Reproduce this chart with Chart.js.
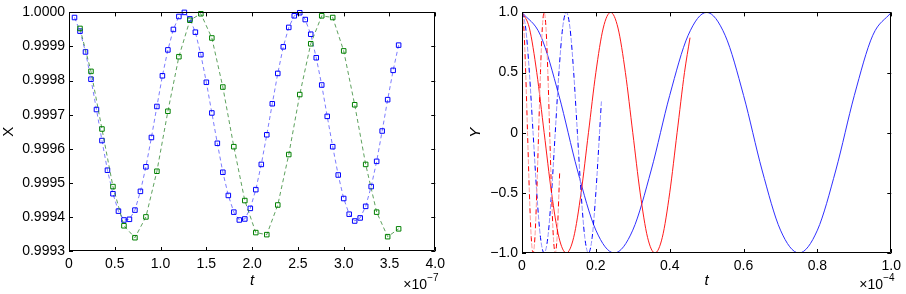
<!DOCTYPE html>
<html>
<head>
<meta charset="utf-8">
<script src="https://cdn.jsdelivr.net/npm/chart.js@4.4.1/dist/chart.umd.min.js"></script>
<style>
  html, body { margin: 0; padding: 0; background: #fff; }
  #wrap { position: relative; width: 906px; height: 294px; }
  canvas { position: absolute; top: 0; }
  #chartX { left: 0; }
  #chartY { left: 455px; }
</style>
</head>
<body>
<div id="wrap">
  <canvas id="chartX" width="450" height="294"></canvas>
  <canvas id="chartY" width="451" height="294"></canvas>
</div>
<script>
// left panel: X against t (t in units of 1e-7)
const tBlue = [0.06, 0.12, 0.18, 0.24, 0.30, 0.36, 0.42, 0.48, 0.54, 0.60,
  0.66, 0.72, 0.78, 0.84, 0.90, 0.96, 1.02, 1.08, 1.14, 1.20,
  1.26, 1.32, 1.38, 1.44, 1.50, 1.56, 1.62, 1.68, 1.74, 1.80,
  1.86, 1.92, 1.98, 2.04, 2.10, 2.16, 2.22, 2.28, 2.34, 2.40,
  2.46, 2.52, 2.58, 2.64, 2.70, 2.76, 2.82, 2.88, 2.94, 3.00,
  3.06, 3.12, 3.18, 3.24, 3.30, 3.36, 3.42, 3.48, 3.54, 3.60];
const xBlue = [0.999985, 0.999945, 0.999884, 0.999804, 0.999715, 0.999624, 0.999537, 0.999468, 0.999417, 0.999391,
  0.999393, 0.999420, 0.999475, 0.999547, 0.999633, 0.999724, 0.999814, 0.999890, 0.999950, 0.999988,
  1.000000, 0.999981, 0.999942, 0.999876, 0.999795, 0.999705, 0.999616, 0.999531, 0.999463, 0.999414,
  0.999391, 0.999394, 0.999425, 0.999480, 0.999554, 0.999641, 0.999732, 0.999821, 0.999899, 0.999956,
  0.999990, 0.999999, 0.999979, 0.999936, 0.999867, 0.999787, 0.999695, 0.999606, 0.999523, 0.999454,
  0.999408, 0.999388, 0.999397, 0.999431, 0.999489, 0.999563, 0.999652, 0.999744, 0.999830, 0.999904];
const tGreen = [0.12, 0.24, 0.36, 0.48, 0.60, 0.72, 0.84, 0.96, 1.08, 1.20,
  1.32, 1.44, 1.56, 1.68, 1.80, 1.92, 2.04, 2.16, 2.28, 2.40,
  2.52, 2.64, 2.76, 2.88, 3.00, 3.12, 3.24, 3.36, 3.48, 3.60];
const xGreen = [0.999953, 0.999827, 0.999658, 0.999489, 0.999374, 0.999339, 0.999400, 0.999534, 0.999710, 0.999870,
  0.999977, 0.999996, 0.999925, 0.999781, 0.999606, 0.999448, 0.999354, 0.999348, 0.999435, 0.999583,
  0.999759, 0.999908, 0.999990, 0.999985, 0.999887, 0.999729, 0.999554, 0.999414, 0.999342, 0.999365];
const leftXTicks = [0, 0.5, 1.0, 1.5, 2.0, 2.5, 3.0, 3.5, 4.0];
const leftXLabels = ['0', '0.5', '1.0', '1.5', '2.0', '2.5', '3.0', '3.5', '4.0'];
const leftYTicks = [0.9993, 0.9994, 0.9995, 0.9996, 0.9997, 0.9998, 0.9999, 1.0];
const leftYLabels = ['0.9993', '0.9994', '0.9995', '0.9996', '0.9997', '0.9998', '0.9999', '1.0000'];

// right panel: Y against t (t in units of 1e-4)
const tBlueSolid = [0, 0.05, 0.10, 0.15, 0.20, 0.25, 0.30, 0.35, 0.40, 0.45, 0.50,
  0.55, 0.60, 0.65, 0.70, 0.75, 0.80, 0.85, 0.90, 0.95, 1.00];
const yBlueSolid = [1, 0.81, 0.31, -0.31, -0.81, -1, -0.81, -0.31, 0.31, 0.81, 1,
  0.81, 0.31, -0.31, -0.81, -1, -0.81, -0.31, 0.31, 0.81, 1];
const tRedSolid = [0, 0.02, 0.04, 0.06, 0.08, 0.10, 0.12, 0.14, 0.16, 0.18, 0.20, 0.22,
  0.24, 0.26, 0.28, 0.30, 0.32, 0.34, 0.36, 0.38, 0.40, 0.42, 0.44, 0.455];
const yRedSolid = [1, 0.87, 0.5, 0, -0.5, -0.87, -1, -0.87, -0.5, 0, 0.5, 0.87,
  1, 0.87, 0.5, 0, -0.5, -0.87, -1, -0.87, -0.5, 0, 0.5, 0.79];
const tBlueDash = [0, 0.01, 0.02, 0.03, 0.04, 0.05, 0.06, 0.07, 0.08, 0.09, 0.10, 0.11,
  0.12, 0.13, 0.14, 0.15, 0.16, 0.17, 0.18, 0.19, 0.20, 0.21, 0.215];
const yBlueDash = [1, 0.87, 0.5, 0, -0.5, -0.87, -1, -0.87, -0.5, 0, 0.5, 0.87,
  1, 0.87, 0.5, 0, -0.5, -0.87, -1, -0.87, -0.5, 0, 0.26];
const tRedDash = [0, 0.005, 0.010, 0.015, 0.020, 0.025, 0.030, 0.035, 0.040, 0.045, 0.050, 0.055,
  0.060, 0.065, 0.070, 0.075, 0.080, 0.085, 0.090, 0.095, 0.100, 0.102];
const yRedDash = [1, 0.87, 0.5, 0, -0.5, -0.87, -1, -0.87, -0.5, 0, 0.5, 0.87,
  1, 0.87, 0.5, 0, -0.5, -0.87, -1, -0.87, -0.5, -0.33];
const rightXTicks = [0, 0.2, 0.4, 0.6, 0.8, 1.0];
const rightXLabels = ['0', '0.2', '0.4', '0.6', '0.8', '1.0'];
const rightYTicks = [-1, -0.5, 0, 0.5, 1];
const rightYLabels = ['\u22121.0', '\u22120.5', '0', '0.5', '1.0'];

const FONT = 'Liberation Sans';

function pts(ts, vs) {
  return ts.map((t, i) => ({ x: t, y: vs[i] }));
}

// box round the plot, inward ticks on all four sides, and the x10^n note
const boxTicks = {
  id: 'boxTicks',
  afterDraw(chart, args, opts) {
    const { ctx, chartArea: a, scales } = chart;
    const sx = scales.x, sy = scales.y;
    ctx.save();
    ctx.strokeStyle = '#000';
    ctx.lineWidth = 1;
    ctx.beginPath();
    ctx.rect(Math.round(a.left) + 0.5, Math.round(a.top) + 0.5,
      Math.round(a.right - a.left) - 1, Math.round(a.bottom - a.top) - 1);
    sx.ticks.forEach(t => {
      const p = Math.round(sx.getPixelForValue(t.value)) + 0.5;
      ctx.moveTo(p, a.bottom); ctx.lineTo(p, a.bottom - 4);
      ctx.moveTo(p, a.top); ctx.lineTo(p, a.top + 4);
    });
    sy.ticks.forEach(t => {
      const p = Math.round(sy.getPixelForValue(t.value)) + 0.5;
      ctx.moveTo(a.left, p); ctx.lineTo(a.left + 4, p);
      ctx.moveTo(a.right, p); ctx.lineTo(a.right - 4, p);
    });
    ctx.stroke();
    ctx.fillStyle = '#000';
    ctx.textBaseline = 'middle';
    ctx.textAlign = 'left';
    ctx.font = '14px ' + FONT;
    ctx.fillText('\u00d710', a.right - 32, 285);
    ctx.font = '10px ' + FONT;
    ctx.fillText(opts.exp, a.right - 8, 278);
    ctx.restore();
  }
};

function axes(xTicks, xLabels, yTicks, yLabels, xMin, xMax, yMin, yMax, yWidth, xHeight, yTitle, yTitleStyle, yTitlePad) {
  return {
    x: {
      type: 'linear', min: xMin, max: xMax,
      grid: { display: false, drawTicks: false }, border: { display: false },
      afterBuildTicks: s => { s.ticks = xTicks.map(v => ({ value: v })); },
      ticks: {
        autoSkip: false, maxRotation: 0, padding: 5, color: '#000',
        font: { family: FONT, size: 14 },
        callback: (v) => xLabels[xTicks.indexOf(v)]
      },
      title: { display: true, text: 't', color: '#000', padding: { top: 0, bottom: 4 },
        font: { family: FONT, size: 15, style: 'italic' } },
      afterFit: s => { s.height = xHeight; }
    },
    y: {
      type: 'linear', min: yMin, max: yMax,
      grid: { display: false, drawTicks: false }, border: { display: false },
      afterBuildTicks: s => { s.ticks = yTicks.map(v => ({ value: v })); },
      ticks: {
        autoSkip: false, padding: 4, color: '#000',
        font: { family: FONT, size: 14 },
        callback: (v) => yLabels[yTicks.indexOf(v)]
      },
      title: { display: true, text: yTitle, color: '#000', padding: { top: yTitlePad, bottom: 0 },
        font: { family: FONT, size: 15, style: yTitleStyle } },
      afterFit: s => { s.width = yWidth; }
    }
  };
}

new Chart(document.getElementById('chartX'), {
  type: 'scatter',
  data: {
    datasets: [
      {
        data: pts(tGreen, xGreen),
        showLine: true,
        borderColor: 'rgba(40,130,40,0.75)',
        borderWidth: 1,
        borderDash: [4, 3],
        pointStyle: 'rect',
        pointRadius: 3.2,
        pointBorderWidth: 1,
        pointBorderColor: '#008000',
        pointBackgroundColor: 'rgba(0,0,0,0)',
        clip: false
      },
      {
        data: pts(tBlue, xBlue),
        showLine: true,
        borderColor: 'rgba(80,80,255,0.75)',
        borderWidth: 1,
        borderDash: [4, 3],
        pointStyle: 'rect',
        pointRadius: 3.2,
        pointBorderWidth: 1,
        pointBorderColor: '#0000ff',
        pointBackgroundColor: 'rgba(0,0,0,0)',
        clip: false
      }
    ]
  },
  options: {
    responsive: false,
    animation: false,
    events: [],
    layout: { padding: { left: 0, right: 14, top: 7, bottom: 0 } },
    plugins: { legend: { display: false }, tooltip: { enabled: false }, boxTicks: { exp: '\u22127' } },
    scales: axes(leftXTicks, leftXLabels, leftYTicks, leftYLabels, 0, 4, 0.9993, 1.0, 69, 43, 'X', 'normal', 0)
  },
  plugins: [boxTicks]
});

const lineBase = { showLine: true, borderWidth: 1, pointRadius: 0, cubicInterpolationMode: 'monotone' };

new Chart(document.getElementById('chartY'), {
  type: 'scatter',
  data: {
    datasets: [
      Object.assign({ data: pts(tRedDash, yRedDash), borderColor: '#ff0000', borderDash: [5, 9] }, lineBase),
      Object.assign({ data: pts(tRedDash, yRedDash), borderColor: '#ff9c9c', borderDash: [5, 9], borderDashOffset: 7 }, lineBase),
      Object.assign({ data: pts(tBlueDash, yBlueDash), borderColor: '#0000ff', borderDash: [5, 9] }, lineBase),
      Object.assign({ data: pts(tBlueDash, yBlueDash), borderColor: '#9494ff', borderDash: [5, 9], borderDashOffset: 7 }, lineBase),
      Object.assign({ data: pts(tRedSolid, yRedSolid), borderColor: '#ff1a1a' }, lineBase),
      Object.assign({ data: pts(tBlueSolid, yBlueSolid), borderColor: '#3030ff' }, lineBase)
    ]
  },
  options: {
    responsive: false,
    animation: false,
    events: [],
    layout: { padding: { left: 0, right: 13, top: 11, bottom: 0 } },
    plugins: { legend: { display: false }, tooltip: { enabled: false }, boxTicks: { exp: '\u22124' } },
    scales: axes(rightXTicks, rightXLabels, rightYTicks, rightYLabels, 0, 1, -1, 1, 67, 41, 'Y', 'italic', 12)
  },
  plugins: [boxTicks]
});
</script>
</body>
</html>
